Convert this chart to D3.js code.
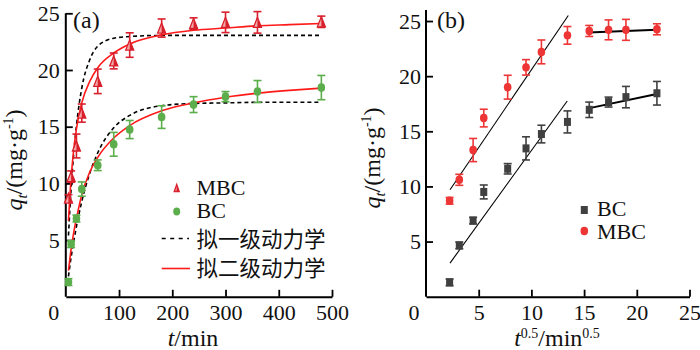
<!DOCTYPE html>
<html>
<head>
<meta charset="utf-8">
<script src="https://cdn.jsdelivr.net/npm/d3@7"></script>
<style>
  body { margin: 0; background: #fff; }
  svg { display: block; }
  text { font-family: "Liberation Serif", "Times New Roman", Times, serif; fill: #111; }
  text.cjk { font-family: "Noto Sans CJK SC", sans-serif; }
  .axis path, .axis line { stroke: #000; }
</style>
</head>
<body>
<div id="chart"></div>
<script>
// sampling times (min) and their square roots
var times = [5, 10, 20, 30, 60, 90, 120, 180, 240, 300, 360, 480];
var sqrtTimes = [2.24, 3.16, 4.47, 5.48, 7.75, 9.49, 10.95, 13.42, 15.49, 17.32, 18.97, 21.91];

// measured uptake q_t (mg/g) and error
var mbcQ = [8.7, 10.6, 13.3, 16.2, 19.0, 20.8, 22.2, 23.7, 24.1, 24.2, 24.2, 24.25];
var mbcErr = [0.3, 0.5, 1.05, 0.8, 1.08, 0.7, 1.08, 0.8, 0.5, 0.9, 0.95, 0.5];
var bcQ = [1.3, 4.65, 6.9, 9.5, 11.6, 13.45, 14.75, 15.85, 16.95, 17.65, 18.1, 18.45];
var bcErr = [0.3, 0.3, 0.3, 0.63, 0.47, 1.05, 0.8, 1.0, 0.7, 0.45, 0.97, 1.07];

// fitted curves
var fitT = [5, 10, 15, 20, 30, 45, 60, 90, 120, 180, 240, 300, 360, 420, 480];
var mbcPFO = [5.4, 9.55, 12.7, 15.1, 18.4, 20.9, 22.1, 22.8, 22.95, 23.05, 23.05, 23.05, 23.05, 23.05, 23.05];
var mbcPSO = [6.7, 10.5, 13.0, 14.8, 17.1, 19.0, 20.2, 21.5, 22.3, 23.1, 23.5, 23.7, 23.9, 24.0, 24.1];
var bcPFO = [1.8, 3.5, 4.9, 6.2, 8.4, 10.9, 12.7, 14.9, 16.0, 16.85, 17.05, 17.1, 17.15, 17.15, 17.15];
var bcPSO = [2.3, 4.2, 5.7, 6.9, 9.0, 11.0, 12.3, 14.0, 15.1, 16.4, 17.1, 17.6, 17.95, 18.2, 18.4];

// intraparticle diffusion segments, panel (b)
var mbcLineS = [2.28, 13.5], mbcLineQ = [9.7, 25.5];
var mbcFlatS = [15.4, 21.9], mbcFlatQ = [23.97, 24.2];
var bcLineS = [2.28, 13.4], bcLineQ = [3.05, 17.75];
var bcFlatS = [15.4, 21.9], bcFlatQ = [17.08, 18.38];

var ticksA_x = [100, 200, 300, 400, 500];
var ticksB_x = [5, 10, 15, 20, 25];
var ticks_y = [5, 10, 15, 20, 25];

var legendA = ["MBC", "BC", "拟一级动力学", "拟二级动力学"];
var legendB = ["BC", "MBC"];

var W = 700, H = 350;
var svg = d3.select("#chart").append("svg")
  .attr("width", W).attr("height", H);

var redLine = "#ff1a1a", redMark = "#d8202c", pink = "#f2a7a7",
    green = "#5cae4c", gray = "#404040", redDot = "#ee3535";

///////////////
// PANEL (a) //
///////////////

var xA = d3.scaleLinear().domain([0, 500]).range([65.8, 332]);
var yA = d3.scaleLinear().domain([0, 25]).range([296.8, 13.3]);

function drawAxes(x, y, xt, yTop, yt, yPad) {
  var gx = svg.append("g").attr("class", "axis")
    .attr("transform", "translate(0," + y(0) + ")")
    .call(d3.axisBottom(x).tickValues(xt).tickSizeInner(-7).tickSizeOuter(0).tickPadding(7.5));
  gx.attr("font-family", null);
  gx.select(".domain").attr("stroke-width", 2);
  gx.selectAll(".tick line").attr("stroke-width", 1.8);
  gx.selectAll(".tick text").attr("font-size", 22).attr("fill", "#111");

  var gy = svg.append("g").attr("class", "axis")
    .attr("transform", "translate(" + x.range()[0] + ",0)")
    .call(d3.axisLeft(y).tickValues(yt).tickSizeInner(-7).tickSizeOuter(0).tickPadding(yPad));
  gy.attr("font-family", null);
  gy.select(".domain").attr("d", "M0," + y(0) + "V" + yTop).attr("stroke-width", 2);
  gy.selectAll(".tick line").attr("stroke-width", 1.8);
  gy.selectAll(".tick text").attr("font-size", 22).attr("fill", "#111");

  // corner zero
  svg.append("text")
    .attr("x", x.range()[0] - 12).attr("y", y(0) + 23)
    .attr("text-anchor", "middle").attr("font-size", 22).text("0");
}

drawAxes(xA, yA, ticksA_x, yA(25), ticks_y, 6);

var lineA = d3.line()
  .x(function (d) { return xA(d[0]); })
  .y(function (d) { return yA(d[1]); })
  .curve(d3.curveMonotoneX);

function zipPts(a, b) { return a.map(function (v, i) { return [v, b[i]]; }); }

svg.append("path").attr("d", lineA(zipPts(fitT, mbcPFO)))
  .attr("fill", "none").attr("stroke", "#000").attr("stroke-width", 1.6).attr("stroke-dasharray", "4,3");
svg.append("path").attr("d", lineA(zipPts(fitT, bcPFO)))
  .attr("fill", "none").attr("stroke", "#000").attr("stroke-width", 1.6).attr("stroke-dasharray", "4,3");
svg.append("path").attr("d", lineA(zipPts(fitT, mbcPSO)))
  .attr("fill", "none").attr("stroke", redLine).attr("stroke-width", 1.6);
svg.append("path").attr("d", lineA(zipPts(fitT, bcPSO)))
  .attr("fill", "none").attr("stroke", redLine).attr("stroke-width", 1.6);

function errorBars(xs, qs, es, x, y, color) {
  var g = svg.append("g").attr("stroke", color).attr("stroke-width", 1.6);
  xs.forEach(function (v, i) {
    var cx = x(v), y1 = y(qs[i] - es[i]), y2 = y(qs[i] + es[i]);
    g.append("line").attr("x1", cx).attr("x2", cx).attr("y1", y1).attr("y2", y2);
    g.append("line").attr("x1", cx - 4).attr("x2", cx + 4).attr("y1", y1).attr("y2", y1);
    g.append("line").attr("x1", cx - 4).attr("x2", cx + 4).attr("y1", y2).attr("y2", y2);
  });
}

function triangle(g, cx, cy, w, h) {
  g.append("path")
    .attr("d", "M" + cx + "," + (cy - h / 2) + "L" + (cx + w / 2) + "," + (cy + h / 2) +
      "L" + (cx - w / 2) + "," + (cy + h / 2) + "Z")
    .attr("fill", pink).attr("stroke", redMark).attr("stroke-width", 1.3);
  g.append("path")
    .attr("d", "M" + cx + "," + (cy - h / 2) + "L" + (cx + w / 2) + "," + (cy + h / 2) +
      "L" + cx + "," + (cy + h / 2) + "Z")
    .attr("fill", redMark);
}

errorBars(times, bcQ, bcErr, xA, yA, green);
svg.append("g").selectAll("ellipse").data(times).enter().append("ellipse")
  .attr("cx", function (d) { return xA(d); })
  .attr("cy", function (d, i) { return yA(bcQ[i]); })
  .attr("rx", 3.8).attr("ry", 4.3).attr("fill", green);

errorBars(times, mbcQ, mbcErr, xA, yA, redMark);
var triG = svg.append("g");
times.forEach(function (t, i) { triangle(triG, xA(t), yA(mbcQ[i]), 8, 10); });

svg.append("text").attr("x", 73).attr("y", 28).attr("font-size", 24).text("(a)");

// legend (a)
var legA = svg.append("g");
triangle(legA, 176.7, 188, 5, 7);
legA.append("ellipse").attr("cx", 176.7).attr("cy", 211.5).attr("rx", 3.5).attr("ry", 4).attr("fill", green);
legA.append("line").attr("x1", 161.7).attr("x2", 189).attr("y1", 238.5).attr("y2", 238.5)
  .attr("stroke", "#000").attr("stroke-width", 1.6).attr("stroke-dasharray", "4,4.5");
legA.append("line").attr("x1", 161.7).attr("x2", 190).attr("y1", 268.5).attr("y2", 268.5)
  .attr("stroke", redLine).attr("stroke-width", 1.6);
var legAy = [187, 210.5, 239, 268.5];
legA.selectAll("text").data(legendA).enter().append("text")
  .attr("class", function (d, i) { return i > 1 ? "cjk" : null; })
  .attr("x", 196.5).attr("y", function (d, i) { return legAy[i]; })
  .attr("dy", "0.35em").attr("font-size", function (d, i) { return i > 1 ? 21.5 : 22; })
  .text(function (d) { return d; });

// axis titles (a)
var xtA = svg.append("text").attr("x", 193).attr("y", 346).attr("text-anchor", "middle").attr("font-size", 24);
xtA.append("tspan").attr("font-style", "italic").text("t");
xtA.append("tspan").text("/min");

function yTitle(cx, cy) {
  var t = svg.append("text").attr("transform", "translate(" + cx + "," + cy + ") rotate(-90)")
    .attr("text-anchor", "middle").attr("font-size", 24);
  t.append("tspan").attr("font-style", "italic").text("q");
  t.append("tspan").attr("font-style", "italic").attr("font-size", 15).attr("dy", 5).text("t");
  t.append("tspan").attr("dy", -5).text("/(mg·g");
  t.append("tspan").attr("font-size", 14).attr("dy", -9).text("-1");
  t.append("tspan").attr("dy", 9).text(")");
}
yTitle(22, 160);

///////////////
// PANEL (b) //
///////////////

var xB = d3.scaleLinear().domain([0, 25]).range([426, 689.5]);
var yB = d3.scaleLinear().domain([0, 26]).range([296.7, 10]);

drawAxes(xB, yB, ticksB_x, yB(26), ticks_y, 5);

var segB = d3.line()
  .x(function (d) { return xB(d[0]); })
  .y(function (d) { return yB(d[1]); });

svg.append("path").attr("d", segB(zipPts(mbcLineS, mbcLineQ))).attr("stroke", "#000").attr("stroke-width", 1.1).attr("fill", "none");
svg.append("path").attr("d", segB(zipPts(bcLineS, bcLineQ))).attr("stroke", "#000").attr("stroke-width", 1.1).attr("fill", "none");
svg.append("path").attr("d", segB(zipPts(mbcFlatS, mbcFlatQ))).attr("stroke", "#000").attr("stroke-width", 2).attr("fill", "none");
svg.append("path").attr("d", segB(zipPts(bcFlatS, bcFlatQ))).attr("stroke", "#000").attr("stroke-width", 2).attr("fill", "none");

errorBars(sqrtTimes, bcQ, bcErr, xB, yB, gray);
svg.append("g").selectAll("rect").data(sqrtTimes).enter().append("rect")
  .attr("x", function (d) { return xB(d) - 3.5; })
  .attr("y", function (d, i) { return yB(bcQ[i]) - 4; })
  .attr("width", 7).attr("height", 8).attr("fill", gray);

errorBars(sqrtTimes, mbcQ, mbcErr, xB, yB, redDot);
svg.append("g").selectAll("ellipse").data(sqrtTimes).enter().append("ellipse")
  .attr("cx", function (d) { return xB(d); })
  .attr("cy", function (d, i) { return yB(mbcQ[i]); })
  .attr("rx", 3.8).attr("ry", 4.2).attr("fill", redDot);

svg.append("text").attr("x", 437).attr("y", 28).attr("font-size", 24).text("(b)");

// legend (b)
var legB = svg.append("g");
legB.append("rect").attr("x", 584.3 - 3.5).attr("y", 210 - 4).attr("width", 7).attr("height", 8).attr("fill", gray);
legB.append("ellipse").attr("cx", 584.3).attr("cy", 231).attr("rx", 3.8).attr("ry", 4.2).attr("fill", redDot);
var legBy = [208.5, 231.5];
legB.selectAll("text").data(legendB).enter().append("text")
  .attr("x", 597).attr("y", function (d, i) { return legBy[i]; })
  .attr("dy", "0.35em").attr("font-size", 22)
  .text(function (d) { return d; });

var xtB = svg.append("text").attr("x", 557).attr("y", 346).attr("text-anchor", "middle").attr("font-size", 24);
xtB.append("tspan").attr("font-style", "italic").text("t");
xtB.append("tspan").attr("font-size", 14).attr("dy", -8).text("0.5");
xtB.append("tspan").attr("dy", 8).text("/min");
xtB.append("tspan").attr("font-size", 14).attr("dy", -8).text("0.5");

yTitle(380, 158);
</script>
</body>
</html>
